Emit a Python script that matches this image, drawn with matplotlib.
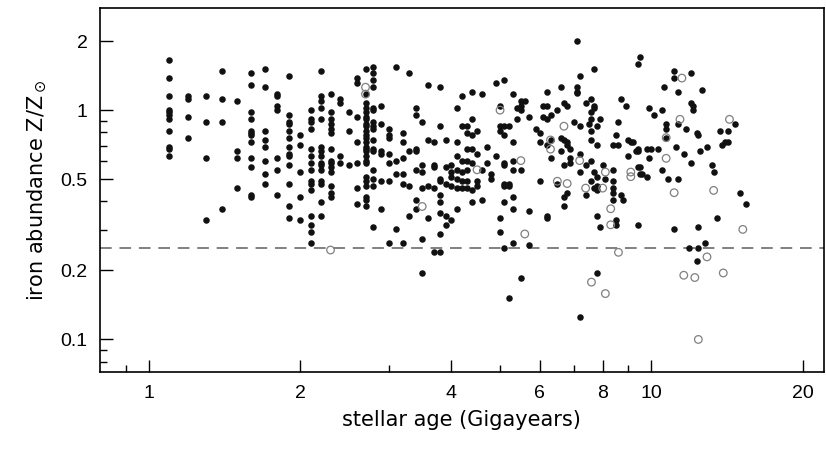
import numpy as np
import matplotlib.pyplot as plt
from matplotlib.ticker import FixedLocator, FixedFormatter, NullFormatter

# stellar ages (Gyr), one entry per column of filled points
col_age = [1.1, 1.2, 1.3, 1.4, 1.5, 1.6, 1.7, 1.8, 1.9, 2.0,
           2.1, 2.2, 2.3, 2.4, 2.5, 2.6, 2.7, 2.8, 2.9, 3.0,
           3.1, 3.2, 3.3, 3.4, 3.5, 3.6, 3.7, 3.8, 3.9, 4.0,
           4.1, 4.2, 4.3, 4.4, 4.5, 4.6, 4.7, 4.8, 4.9, 5.0,
           5.1, 5.2, 5.3, 5.4, 5.5, 5.6, 5.7, 5.9, 6.0, 6.1,
           6.2, 6.3, 6.5, 6.6, 6.7, 6.8, 6.9, 7.0, 7.1, 7.2,
           7.4, 7.5, 7.6, 7.7, 7.8, 7.9, 8.0, 8.1, 8.4, 8.5,
           8.6, 8.7, 8.8, 8.9, 9.0, 9.1, 9.2, 9.3, 9.4, 9.5,
           9.6, 9.8, 9.9, 10.0, 10.1, 10.3, 10.5, 10.6, 10.7, 10.8,
           11.1, 11.2, 11.3, 11.6, 11.7, 11.9, 12.0, 12.1, 12.3, 12.4,
           12.5, 12.6, 12.8, 12.9, 13.2, 13.3, 13.5, 13.7, 13.8, 14.0,
           14.2, 14.7, 15.0, 15.4]

# log10(Z/Zsun) of the filled points in each column
col_logz = [
    [0.22, 0.14, 0.06, 0.00, -0.01, -0.02, -0.04, -0.09, -0.16, -0.17, -0.20],
    [0.06, 0.05, -0.03, -0.12],
    [0.06, -0.05, -0.21, -0.48],
    [0.17, 0.05, -0.05, -0.43],
    [0.04, -0.18, -0.21, -0.34],
    [0.16, 0.11, -0.01, -0.04, -0.09, -0.10, -0.11, -0.14, -0.21, -0.25, -0.37, -0.38],
    [0.18, 0.10, -0.09, -0.13, -0.16, -0.22, -0.28, -0.32],
    [0.07, 0.06, 0.02, 0.00, -0.21, -0.26, -0.37],
    [0.15, -0.02, -0.05, -0.06, -0.09, -0.12, -0.16, -0.19, -0.20, -0.24, -0.32, -0.42, -0.47],
    [-0.11, -0.15, -0.27, -0.38, -0.48],
    [0.00, -0.04, -0.05, -0.08, -0.17, -0.20, -0.23, -0.26, -0.31, -0.32, -0.35, -0.46, -0.50, -0.53, -0.58],
    [0.17, 0.06, 0.04, 0.01, -0.04, -0.16, -0.18, -0.20, -0.23, -0.24, -0.26, -0.31, -0.32, -0.40, -0.46],
    [0.07, -0.01, -0.04, -0.06, -0.08, -0.10, -0.17, -0.22, -0.23, -0.25, -0.27, -0.33, -0.36, -0.38],
    [0.05, 0.03, -0.20, -0.23],
    [-0.01, -0.09, -0.24],
    [0.14, 0.12, -0.03, -0.14, -0.23, -0.34, -0.41],
    [0.18, 0.07, 0.03, 0.01, -0.01, -0.03, -0.04, -0.06, -0.07, -0.09, -0.11, -0.12, -0.14,
     -0.16, -0.17, -0.18, -0.20, -0.22, -0.23, -0.29, -0.31, -0.33, -0.38, -0.39, -0.42],
    [0.19, 0.16, 0.13, 0.10, 0.01, 0.00, -0.05, -0.07, -0.08, -0.13, -0.17, -0.18, -0.26, -0.30, -0.33, -0.51],
    [0.02, -0.06, -0.18, -0.19, -0.31, -0.43],
    [-0.08, -0.11, -0.12, -0.19, -0.23, -0.31, -0.58],
    [0.19, -0.22, -0.28, -0.52],
    [-0.10, -0.14, -0.21, -0.28, -0.32, -0.58],
    [0.16, -0.18, -0.33, -0.46],
    [0.01, -0.02, -0.17, -0.18, -0.26, -0.39, -0.43],
    [-0.05, -0.24, -0.27, -0.34, -0.56, -0.71],
    [0.11, -0.13, -0.33, -0.47],
    [-0.14, -0.24, -0.25, -0.34, -0.62],
    [0.10, -0.07, -0.30, -0.31, -0.37, -0.40, -0.45, -0.54, -0.62],
    [-0.13, -0.25, -0.32, -0.46, -0.50],
    [-0.24, -0.27, -0.29, -0.33, -0.48],
    [0.01, -0.14, -0.20, -0.26, -0.30, -0.34, -0.43],
    [0.06, -0.07, -0.22, -0.27, -0.31, -0.34],
    [-0.07, -0.10, -0.17, -0.22, -0.26, -0.31, -0.34],
    [0.08, -0.04, -0.11, -0.17, -0.23, -0.35, -0.40],
    [-0.09, -0.19, -0.31, -0.33],
    [0.07, -0.26, -0.39],
    [-0.16, -0.23],
    [-0.28, -0.30],
    [0.12, -0.20],
    [0.02, -0.07, -0.09, -0.47, -0.53],
    [0.13, -0.07, -0.11, -0.23, -0.24, -0.32, -0.33, -0.40, -0.60],
    [-0.07, -0.32, -0.33, -0.82],
    [0.07, -0.14, -0.22, -0.26, -0.38, -0.43, -0.58],
    [0.01, -0.04],
    [0.04, 0.02, 0.00, -0.26, -0.73],
    [0.04],
    [-0.03, -0.44, -0.59],
    [-0.08],
    [-0.10, -0.14, -0.31],
    [0.02, -0.03],
    [0.08, 0.02, -0.04, -0.15, -0.46, -0.47],
    [-0.02, -0.13, -0.21],
    [0.00, -0.32],
    [0.10, -0.12, -0.18],
    [0.03, -0.13, -0.24, -0.38, -0.42],
    [0.02, -0.14, -0.15, -0.36],
    [-0.17, -0.21, -0.23],
    [-0.05],
    [0.30, 0.10, 0.08, 0.075],
    [0.15, -0.07, -0.19, -0.27, -0.90],
    [0.03, -0.24, -0.37],
    [-0.06],
    [0.05, -0.01, -0.04, -0.09, -0.13, -0.22, -0.31],
    [0.18, 0.02, 0.01, -0.27, -0.34],
    [-0.07, -0.15, -0.29, -0.33, -0.35, -0.46, -0.71],
    [-0.04, -0.51],
    [-0.24],
    [-0.30],
    [-0.15, -0.26, -0.31, -0.34, -0.36, -0.39],
    [-0.11, -0.48, -0.50],
    [-0.05, -0.15],
    [0.05, -0.37],
    [-0.39],
    [0.02],
    [-0.13, -0.20],
    [-0.14],
    [-0.14],
    [-0.18],
    [0.20, -0.17, -0.18, -0.25, -0.50],
    [0.23, -0.25, -0.28],
    [-0.28],
    [-0.17, -0.29],
    [0.01, -0.21],
    [-0.17],
    [-0.02],
    [-0.17],
    [0.00, -0.26],
    [0.10],
    [-0.06, -0.08, -0.12],
    [-0.30],
    [0.17, 0.14, -0.52],
    [-0.16],
    [0.08, -0.06, -0.30],
    [-0.19],
    [-0.08],
    [-0.60],
    [0.16, 0.03, -0.23],
    [0.02, 0.00],
    [-0.10, -0.66],
    [-0.11, -0.51, -0.60],
    [-0.18],
    [0.09],
    [-0.58],
    [-0.16],
    [-0.24],
    [-0.27],
    [-0.47],
    [-0.09],
    [-0.15],
    [-0.14],
    [-0.14, -0.09],
    [-0.06],
    [-0.36],
    [-0.41],
]

# open (grey) circles
open_age = [2.3, 2.7, 2.7, 3.5, 4.5, 5.0, 5.5, 5.6, 6.3, 6.3,
            6.5, 6.7, 6.8, 7.2, 7.4, 7.6, 8.0, 8.1, 8.1, 8.3,
            8.3, 8.6, 9.1, 9.1, 10.7, 10.7, 11.1, 11.4, 11.5, 11.6,
            12.2, 12.4, 12.9, 13.3, 13.9, 14.3, 15.2]
open_logz = [-0.61, 0.10, 0.07, -0.42, -0.26, 0.00, -0.22, -0.54, -0.13, -0.17,
             -0.31, -0.07, -0.32, -0.22, -0.34, -0.75, -0.34, -0.27, -0.80, -0.43,
             -0.50, -0.62, -0.27, -0.29, -0.12, -0.21, -0.36, -0.04, 0.14, -0.72,
             -0.73, -1.00, -0.64, -0.35, -0.71, -0.04, -0.52]

z_limit = 0.25

age = np.repeat(col_age, [len(c) for c in col_logz])
z = 10 ** np.concatenate(col_logz)

fig = plt.figure(figsize=(8.26, 4.5), dpi=100)
ax = fig.add_axes([0.121, 0.173, 0.876, 0.81])

ax.set_xscale('log')
ax.set_yscale('log')
ax.set_xlim(0.8, 22)
ax.set_ylim(0.072, 2.8)

ax.axhline(z_limit, color='#808080', ls=(0, (6, 4)), lw=1.4, zorder=1)
ax.scatter(age, z, s=22, c='#111111', linewidths=0, zorder=3)
ax.scatter(open_age, 10 ** np.array(open_logz), s=30, facecolors='none',
           edgecolors='#808080', linewidths=0.9, zorder=4)

ax.xaxis.set_major_locator(FixedLocator([1, 2, 4, 6, 8, 10, 20]))
ax.xaxis.set_major_formatter(FixedFormatter(['1', '2', '4', '6', '8', '10', '20']))
ax.xaxis.set_minor_locator(FixedLocator([0.9, 3, 5, 7, 9]))
ax.xaxis.set_minor_formatter(NullFormatter())
ax.yaxis.set_major_locator(FixedLocator([0.1, 0.2, 0.5, 1, 2]))
ax.yaxis.set_major_formatter(FixedFormatter(['0.1', '0.2', '0.5', '1', '2']))
ax.yaxis.set_minor_locator(FixedLocator([0.08, 0.09, 0.3, 0.4, 0.6, 0.7, 0.8, 0.9]))
ax.yaxis.set_minor_formatter(NullFormatter())

ax.tick_params(which='major', direction='in', length=9, width=1, labelsize=14, pad=9)
ax.tick_params(which='minor', direction='in', length=5, width=1)
for lab in ax.get_xticklabels() + ax.get_yticklabels():
    lab.set_family('Liberation Sans')
for sp in ax.spines.values():
    sp.set_linewidth(1.2)

ax.set_xlabel('stellar age (Gigayears)', fontsize=15, labelpad=6)
ax.set_ylabel(r'iron abundance Z/Z$_\odot$', fontsize=15, labelpad=8)

fig.savefig('out.png', dpi=100)
